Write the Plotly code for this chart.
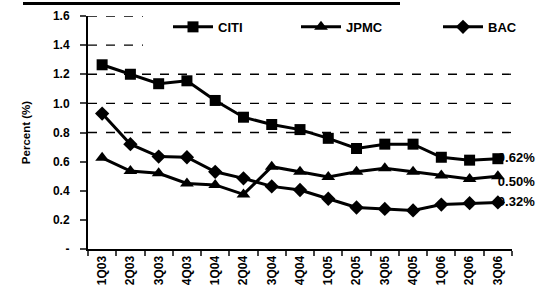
import plotly.graph_objects as go

quarters = ["1Q03", "2Q03", "3Q03", "4Q03", "1Q04", "2Q04", "3Q04", "4Q04",
            "1Q05", "2Q05", "3Q05", "4Q05", "1Q06", "2Q06", "3Q06"]
citi = [1.265, 1.20, 1.135, 1.155, 1.02, 0.905, 0.855, 0.82, 0.76, 0.69, 0.72, 0.72, 0.63, 0.61, 0.62]
jpmc = [0.626, 0.535, 0.52, 0.45, 0.44, 0.375, 0.565, 0.53, 0.495, 0.53, 0.555, 0.53, 0.505, 0.48, 0.50]
bac = [0.93, 0.72, 0.635, 0.63, 0.53, 0.485, 0.43, 0.405, 0.345, 0.285, 0.275, 0.265, 0.305, 0.315, 0.32]
end_labels = ["0.62%", "0.50%", "0.32%"]
yticks = [0, 0.2, 0.4, 0.6, 0.8, 1.0, 1.2, 1.4, 1.6]
ytick_text = ["-", "0.2", "0.4", "0.6", "0.8", "1.0", "1.2", "1.4", "1.6"]

FONT = "Liberation Sans, Arial, sans-serif"
L, R, T, B = 88, 34, 14, 48
PW, PH = 546 - L - R, 297 - T - B


def px_x(p):
    return (p - L) / PW


def px_y(p):
    return (297 - B - p) / PH


fig = go.Figure()

# end-of-line labels first so the markers sit on top of them
label_pos = ["middle right", "bottom right", "middle right"]
for vals, lab, pos in zip([citi, jpmc, bac], end_labels, label_pos):
    fig.add_trace(go.Scatter(
        x=[quarters[-1]], y=[vals[-1]], mode="text", text=[lab], textposition=pos,
        textfont=dict(family=FONT, size=13, color="black", weight="bold"),
        marker=dict(size=1),
        showlegend=False, hoverinfo="skip", cliponaxis=False,
    ))

series = [("CITI", citi, "square", 11, "legend"),
          ("JPMC", jpmc, "triangle-up", 12, "legend2"),
          ("BAC", bac, "diamond", 11, "legend3")]
for name, vals, sym, size, lg in series:
    fig.add_trace(go.Scatter(
        x=quarters, y=vals, name=name, mode="lines+markers",
        line=dict(color="black", width=3),
        marker=dict(symbol=sym, size=size, color="black"),
        legend=lg, cliponaxis=False,
    ))

# dashed gridlines
for yv, x1 in [(1.6, px_x(143)), (1.4, px_x(143)), (1.2, 1), (1.0, 1), (0.8, 1)]:
    fig.add_shape(type="line", xref="paper", yref="y", x0=0, x1=x1, y0=yv, y1=yv,
                  line=dict(color="black", width=1.3, dash="dash"), layer="below")

# top scan bar
fig.add_shape(type="rect", xref="paper", yref="paper",
              x0=px_x(23), x1=px_x(400), y0=px_y(3), y1=px_y(0),
              fillcolor="black", line=dict(width=0))

leg_common = dict(orientation="h", yanchor="middle", y=px_y(25), xanchor="left",
                  font=dict(family=FONT, size=13, weight="bold"),
                  bgcolor="rgba(0,0,0,0)", itemwidth=40)
fig.update_layout(
    width=546, height=297,
    margin=dict(l=L, r=R, t=T, b=B),
    paper_bgcolor="white", plot_bgcolor="white",
    font=dict(family=FONT, color="black"),
    showlegend=True,
    legend=dict(x=px_x(168), **leg_common),
    legend2=dict(x=px_x(296), **leg_common),
    legend3=dict(x=px_x(438), **leg_common),
)
fig.update_xaxes(
    type="category", categoryorder="array", categoryarray=quarters,
    tickmode="array", tickvals=quarters, ticktext=quarters,
    tickangle=-90, tickson="boundaries", ticks="outside", ticklen=5, tickwidth=1.5,
    showline=True, linecolor="black", linewidth=2, showgrid=False,
    tickfont=dict(family=FONT, size=12, weight="bold"),
    range=[-0.5, 14.5], automargin=False,
)
fig.update_yaxes(
    range=[0, 1.6], tickmode="array", tickvals=yticks, ticktext=ytick_text,
    ticks="outside", ticklen=6, tickwidth=1.5, ticklabelstandoff=8,
    showline=True, linecolor="black", linewidth=2, showgrid=False, zeroline=False,
    tickfont=dict(family=FONT, size=12, weight="bold"),
    title=dict(text="Percent (%)", font=dict(family=FONT, size=11.5, weight="bold"), standoff=20),
    automargin=False,
)

fig.write_html("out.html", config={"displayModeBar": False},
               post_script="document.body.style.margin='0px';")
